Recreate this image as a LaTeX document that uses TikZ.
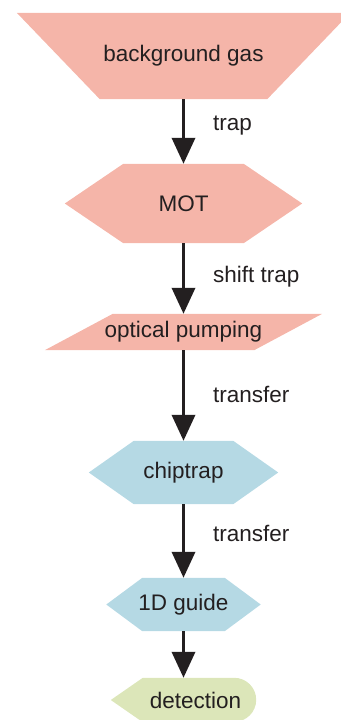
\documentclass[tikz,border=0pt]{standalone}
\usepackage{fontspec}
\setmainfont{Liberation Sans}
\usetikzlibrary{arrows.meta,backgrounds}

\begin{document}
\begin{tikzpicture}[x=1pt,y=-1pt]
  % colors
  \definecolor{kPink}{RGB}{245,181,169}
  \definecolor{kBlue}{RGB}{181,217,228}
  \definecolor{kGreen}{RGB}{220,230,185}
  \definecolor{kInk}{RGB}{35,31,32}
  \tikzset{
    stage/.style={inner sep=0pt,text=kInk,font=\fontsize{22.5}{27}\selectfont},
    lab/.style={anchor=base west,inner sep=0pt,text=kInk,font=\fontsize{22.5}{27}\selectfont},
    flow/.style={draw=kInk,line width=3.6pt,-{Triangle[length=26pt,width=23pt]}}
  }
  \useasboundingbox (0,0) rectangle (340,720);
  % stages
  \node[stage,minimum width=333pt,minimum height=86pt] (gas) at (183.5,56) {background gas};
  \node[stage,minimum width=237pt,minimum height=79pt] (mot) at (183.5,203.5) {MOT};
  \node[stage,minimum width=277pt,minimum height=36pt] (pump) at (183.5,332) {optical pumping};
  \node[stage,minimum width=189pt,minimum height=63pt] (chip) at (183.5,472.5) {chiptrap};
  \node[stage,minimum width=154pt,minimum height=53pt] (guide) at (183.5,604.5) {1D guide};
  \node[stage,minimum width=169pt,minimum height=44pt] (det) at (195.5,700) {detection};
  % shapes behind the text
  \begin{scope}[on background layer]
    \fill[kPink] (gas.north west) -- (gas.north east) -- ([xshift=-83pt]gas.south east)
      -- ([xshift=83pt]gas.south west) -- cycle;
    \fill[kPink] (mot.west) -- ([xshift=58.5pt]mot.north west) -- ([xshift=-58.5pt]mot.north east)
      -- (mot.east) -- ([xshift=-58.5pt]mot.south east) -- ([xshift=58.5pt]mot.south west) -- cycle;
    \fill[kPink] ([xshift=68pt]pump.north west) -- (pump.north east)
      -- ([xshift=-68pt]pump.south east) -- (pump.south west) -- cycle;
    \fill[kBlue] (chip.west) -- ([xshift=45pt]chip.north west) -- ([xshift=-45pt]chip.north east)
      -- (chip.east) -- ([xshift=-45pt]chip.south east) -- ([xshift=45pt]chip.south west) -- cycle;
    \fill[kBlue] (guide.west) -- ([xshift=36pt]guide.north west) -- ([xshift=-36pt]guide.north east)
      -- (guide.east) -- ([xshift=-36pt]guide.south east) -- ([xshift=36pt]guide.south west) -- cycle;
    \fill[kGreen] (det.west) -- ([xshift=32pt]det.north west) -- ([xshift=-46pt]det.north east)
      arc[start angle=90,end angle=-90,radius=22pt] -- ([xshift=32pt]det.south west) -- cycle;
  \end{scope}
  % steps
  \draw[flow] (gas.south) -- (mot.north);
  \draw[flow] (mot.south) -- (pump.north);
  \draw[flow] (pump.south) -- (chip.north);
  \draw[flow] (chip.south) -- (guide.north);
  \draw[flow] (guide.south) -- (guide.south |- det.north);
  \node[lab] (l1) at (213,130) {trap};
  \node[lab] (l2) at (213,282) {shift trap};
  \node[lab] (l3) at (213,402) {transfer};
  \node[lab] (l4) at (213,541) {transfer};
\end{tikzpicture}
\end{document}
